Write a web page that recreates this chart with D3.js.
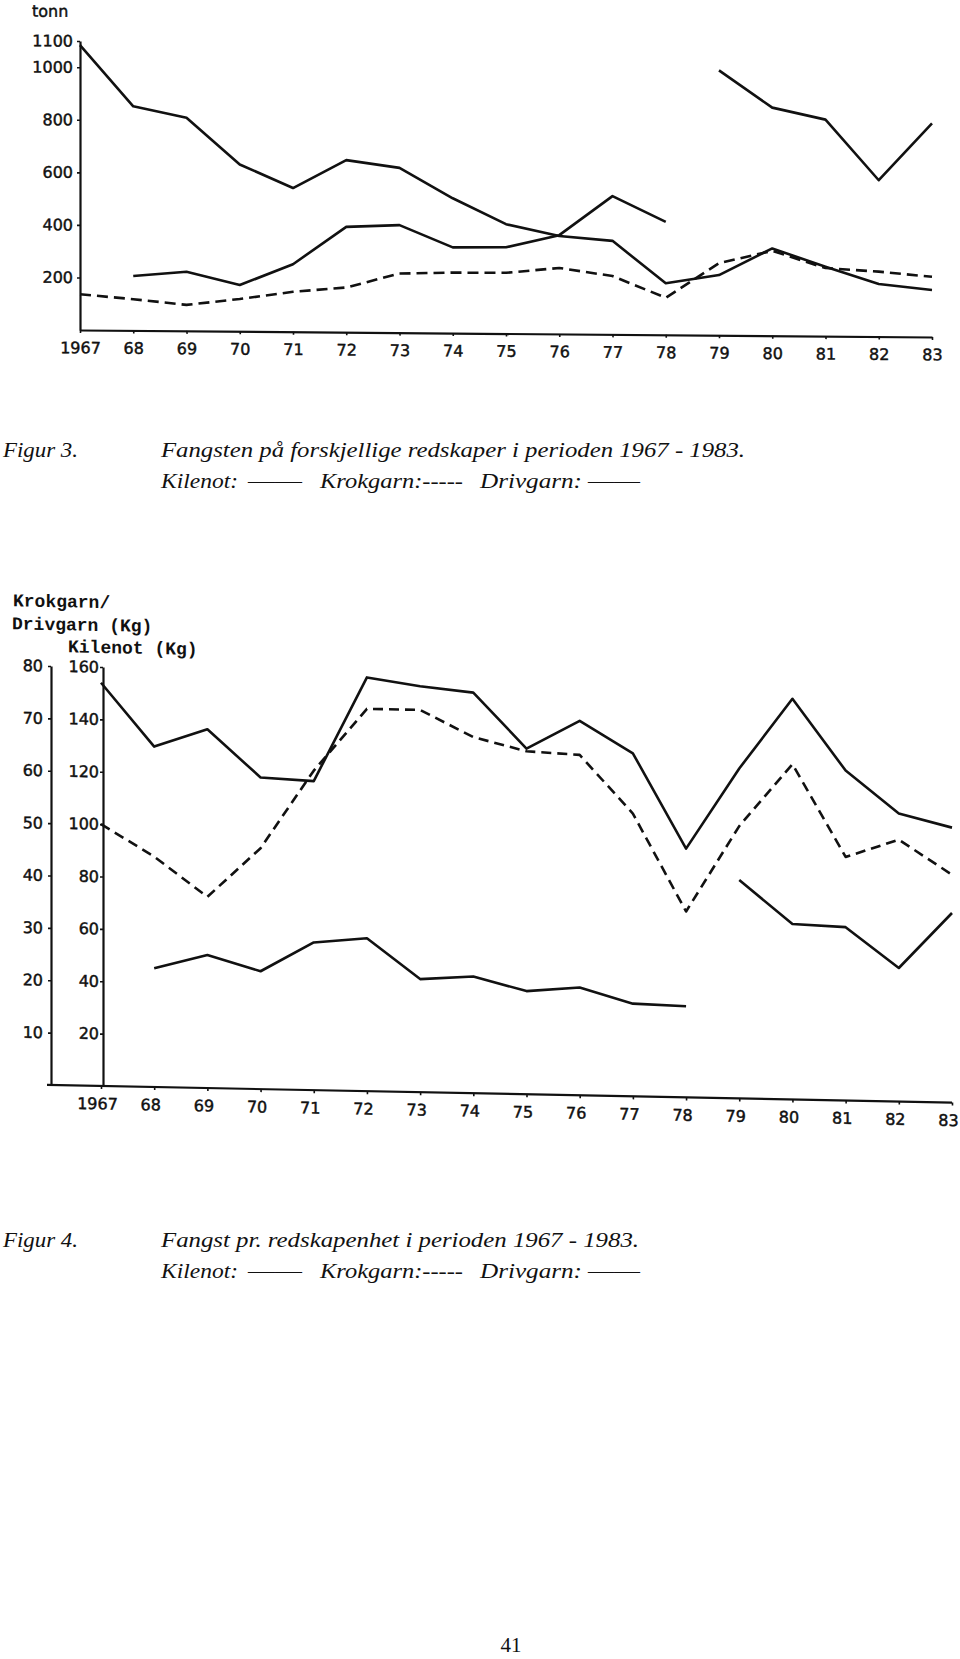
<!DOCTYPE html>
<html><head><meta charset="utf-8">
<script src="https://cdn.jsdelivr.net/npm/d3@7"></script>
<style>
body{margin:0;background:#fff;}
svg{display:block;}
.ax .tick text{font-family:"DejaVu Sans",sans-serif;font-size:16px;fill:#111;stroke:#111;stroke-width:0.45;}
.ax .domain{stroke:#111;stroke-width:2.2;}
.ax .tick line{stroke:#111;stroke-width:1.6;}
.cap{font-family:"Liberation Serif","Times New Roman",serif;font-style:italic;font-size:22px;fill:#111;}
.mono{font-family:"Liberation Mono","Courier New",monospace;font-weight:bold;font-size:18px;fill:#111;}
</style></head><body>
<svg id="c" width="960" height="1659"></svg>
<script>
// ---------- data ----------
const years = [1967,1968,1969,1970,1971,1972,1973,1974,1975,1976,1977,1978,1979,1980,1981,1982,1983];
const yearLabels = ["1967","68","69","70","71","72","73","74","75","76","77","78","79","80","81","82","83"];
const drivYears1 = [1968,1969,1970,1971,1972,1973,1974,1975,1976,1977,1978];
const drivYears2 = [1979,1980,1981,1982,1983];

// Figur 3 (tonn)
const f3Kilenot  = [1084,853,811,635,547,655,627,513,416,373,356,196,229,332,264,200,179];
const f3Krokgarn = [136,119,99,123,152,170,225,230,231,251,222,141,274,323,259,247,229];
const f3Drivgarn1 = [207,225,176,257,401,409,326,328,376,526,430];
const f3Drivgarn2 = [1008,868,824,595,813];
const f3Ticks = [200,400,600,800,1000,1100];

// Figur 4 (Kg pr. redskapenhet)
const f4Kilenot  = [154,130,137,119,118,158,155,153,132,143,131,95,126,153,126,110,105];
const f4Krokgarn = [50,44,36.5,46,61,73,73,68,65.5,65,54,35.5,52,64,46.5,50,43.5];
const f4Drivgarn1 = [22.7,25.4,22.5,28.2,29.2,21.6,22.3,19.7,20.6,17.7,17.4];
const f4Drivgarn2 = [41.7,33.5,33.1,25.5,36.2];
const f4LeftTicks  = [10,20,30,40,50,60,70,80];
const f4RightTicks = [20,40,60,80,100,120,140,160];

// ---------- drawing ----------
const svg = d3.select("#c");

function series(g, xs, ys, xs_, ys_, dashed, dash){
  const data = xs.map((x,i)=>[x, ys[i]]);
  g.append("path").datum(data)
    .attr("d", d3.line().x(d=>xs_(d[0])).y(d=>ys_(d[1])))
    .attr("fill","none").attr("stroke","#111").attr("stroke-width",2.6)
    .attr("stroke-linejoin","round")
    .attr("stroke-dasharray", dashed ? dash : null);
}

// ===== Figur 3 =====
const g3 = svg.append("g").attr("transform","translate(80,0) skewY(0.47) translate(-80,0)");
const x3 = d3.scaleLinear().domain([1967,1983]).range([80,932]);
const y3 = d3.scaleLinear().domain([0,1100]).range([330,41]);

g3.append("g").attr("class","ax").attr("transform","translate(0,330)")
  .call(d3.axisBottom(x3).tickValues(years).tickFormat((d,i)=>yearLabels[i])
        .tickSize(3).tickSizeOuter(0).tickPadding(9));
g3.append("g").attr("class","ax").attr("transform","translate(80,0)")
  .call(d3.axisLeft(y3).tickValues(f3Ticks).tickFormat(d3.format("d"))
        .tickSize(3).tickSizeOuter(0).tickPadding(4));
g3.append("text").attr("x",32).attr("y",17)
  .attr("font-family","DejaVu Sans").attr("font-size",16).attr("fill","#111")
  .attr("stroke","#111").attr("stroke-width",0.45)
  .text("tonn");

series(g3, years, f3Kilenot, x3, y3, false);
series(g3, drivYears1, f3Drivgarn1, x3, y3, false);
series(g3, drivYears2, f3Drivgarn2, x3, y3, false);
series(g3, years, f3Krokgarn, x3, y3, true, "11,6");

// ===== Figur 4 =====
const g4 = svg.append("g").attr("transform","translate(101,0) skewY(1.117) translate(-101,0)");
const x4 = d3.scaleLinear().domain([1967,1983]).range([101,952]);
const y4L = d3.scaleLinear().domain([0,80]).range([1086,667]);
const y4R = d3.scaleLinear().domain([0,160]).range([1086,667]);

// base line (extends left past the outer axis)
g4.append("line").attr("x1",47).attr("x2",x4(1983)).attr("y1",1086).attr("y2",1086)
  .attr("stroke","#111").attr("stroke-width",2.2);
const xa4 = g4.append("g").attr("class","ax").attr("transform","translate(0,1086)")
  .call(d3.axisBottom(x4).tickValues(years).tickFormat((d,i)=>yearLabels[i])
        .tickSize(3).tickSizeOuter(0).tickPadding(9));
xa4.select(".domain").remove();
xa4.selectAll(".tick text").attr("dx",-4);
g4.append("g").attr("class","ax").attr("transform","translate(51,0)")
  .call(d3.axisLeft(y4L).tickValues(f4LeftTicks).tickSize(3).tickSizeOuter(0).tickPadding(5));
g4.append("g").attr("class","ax").attr("transform","translate(103,0)")
  .call(d3.axisLeft(y4R).tickValues(f4RightTicks).tickSize(3).tickSizeOuter(0).tickPadding(1));

g4.append("text").attr("class","mono").attr("x",13).attr("y",608).text("Krokgarn/");
g4.append("text").attr("class","mono").attr("x",12).attr("y",631).attr("xml:space","preserve").text("Drivgarn (Kg)");
g4.append("text").attr("class","mono").attr("x",68).attr("y",653).attr("xml:space","preserve").text("Kilenot (Kg)");

series(g4, years, f4Kilenot, x4, y4R, false);
series(g4, years, f4Krokgarn, x4, y4L, true, "10,6");
series(g4, drivYears1, f4Drivgarn1, x4, y4L, false);
series(g4, drivYears2, f4Drivgarn2, x4, y4L, false);

// ===== captions =====
function cap(x, y, str, len){
  const t = svg.append("text").attr("class","cap").attr("x",x).attr("y",y).text(str);
  if (len) t.attr("textLength",len).attr("lengthAdjust","spacingAndGlyphs");
  return t;
}
function legendLine(y){
  cap(161, y, "Kilenot:", 77);
  cap(248, y, "\u2014\u2014", 54);
  cap(320, y, "Krokgarn:-----", 143);
  cap(480, y, "Drivgarn:", 102);
  cap(588, y, "\u2014\u2014", 52);
}
cap(3, 457, "Figur 3.", 75);
cap(161, 457, "Fangsten på forskjellige redskaper i perioden 1967 - 1983.", 584);
legendLine(488);

cap(3, 1247, "Figur 4.", 75);
cap(161, 1247, "Fangst pr. redskapenhet i perioden 1967 - 1983.", 478);
legendLine(1278);

svg.append("text").attr("x",511).attr("y",1652).attr("text-anchor","middle")
  .attr("font-family","Liberation Serif, Times New Roman, serif").attr("font-size",21).attr("fill","#111")
  .text("41");
</script>
</body></html>
